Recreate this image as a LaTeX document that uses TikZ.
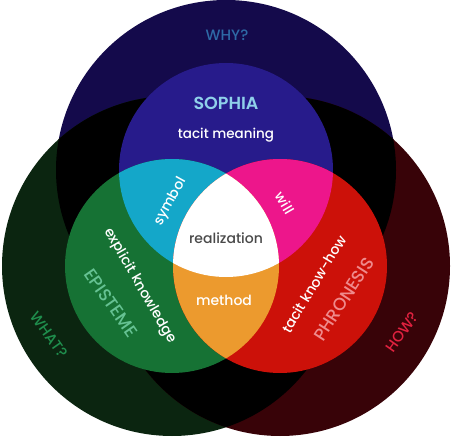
\documentclass[tikz,border=0pt]{standalone}
\usepackage{fontspec}
\setmainfont{Poppins}[UprightFont={* Medium},BoldFont={* SemiBold}]
\definecolor{bigblue}{HTML}{140A4B}
\definecolor{biggreen}{HTML}{0B2510}
\definecolor{bigred}{HTML}{380308}
\definecolor{sblue}{HTML}{271B8B}
\definecolor{sgreen}{HTML}{167234}
\definecolor{sred}{HTML}{CC1109}
\definecolor{scyan}{HTML}{14A7C9}
\definecolor{smag}{HTML}{ED168B}
\definecolor{sorange}{HTML}{EC9A2E}
\definecolor{whyc}{HTML}{2E6AA6}
\definecolor{sophiac}{HTML}{8FD0EA}
\definecolor{epic}{HTML}{66C293}
\definecolor{whatc}{HTML}{1F8E4D}
\definecolor{phronc}{HTML}{EF8A8C}
\definecolor{howc}{HTML}{E0213F}
\definecolor{realc}{HTML}{4A4A4A}
\begin{document}
\begin{tikzpicture}[x=1pt,y=-1pt,
  lbl/.style={inner sep=0pt,font=\fontsize{14}{14}\selectfont,text=white},
  big/.style={inner sep=0pt,font=\fontsize{17.5}{17.5}\selectfont}]
\useasboundingbox (0,0) rectangle (452,438);
\coordinate (B) at (226,170);
\coordinate (G) at (172,266);
\coordinate (R) at (280,266);
\def\RB{170}
\def\rs{107}
% big circles
\fill[bigblue] (B) circle (\RB);
\fill[biggreen] (G) circle (\RB);
\fill[bigred] (R) circle (\RB);
\begin{scope}\clip (B) circle (\RB); \fill[black] (G) circle (\RB); \fill[black] (R) circle (\RB);\end{scope}
\begin{scope}\clip (G) circle (\RB); \fill[black] (R) circle (\RB);\end{scope}
% small circles
\fill[sblue] (B) circle (\rs);
\fill[sgreen] (G) circle (\rs);
\fill[sred] (R) circle (\rs);
\begin{scope}\clip (B) circle (\rs); \fill[scyan] (G) circle (\rs); \fill[smag] (R) circle (\rs);\end{scope}
\begin{scope}\clip (G) circle (\rs); \fill[sorange] (R) circle (\rs);\end{scope}
\begin{scope}\clip (B) circle (\rs); \clip (G) circle (\rs); \fill[white] (R) circle (\rs);\end{scope}
% texts
\node[inner sep=0pt,font=\fontsize{15}{15}\selectfont,text=whyc] (why) at (227,35) {WHY?};
\node[big,text=sophiac] (sophia) at (226,103) {\bfseries SOPHIA};
\node[lbl,font=\fontsize{13.5}{13.5}\selectfont] (meaning) at (226,135) {tacit meaning};
\node[lbl,rotate=61] (symbol) at (171,202) {symbol};
\node[lbl,rotate=-60] (will) at (285,203) {will};
\node[lbl,text=realc] (real) at (226,238) {realization};
\node[lbl] (method) at (224,300) {method};
\node[lbl,rotate=-60] (explicit) at (140,286) {explicit knowledge};
\node[big,text=epic,rotate=-55] (episteme) at (111,303) {EPISTEME};
\node[inner sep=0pt,font=\fontsize{15}{15}\selectfont,text=whatc,rotate=-55] (what) at (49,335) {WHAT?};
\node[lbl,rotate=59] (knowhow) at (314,284) {tacit know-how};
\node[big,text=phronc,rotate=57] (phron) at (344,299) {PHRONESIS};
\node[inner sep=0pt,font=\fontsize{15}{15}\selectfont,text=howc,rotate=55] (how) at (402,332) {HOW?};
\end{tikzpicture}
\end{document}
